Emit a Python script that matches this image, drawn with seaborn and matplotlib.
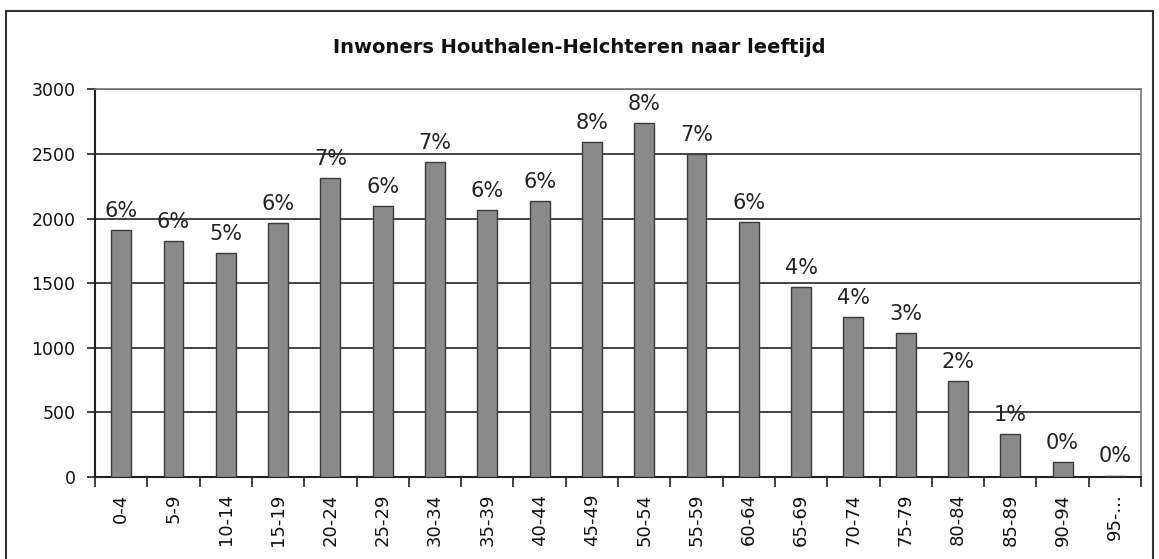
import matplotlib
matplotlib.use("Agg")
import matplotlib.pyplot as plt
import seaborn as sns
import pandas as pd
import numpy as np
from matplotlib.patches import Rectangle

categories = ["0-4", "5-9", "10-14", "15-19", "20-24", "25-29", "30-34", "35-39",
              "40-44", "45-49", "50-54", "55-59", "60-64", "65-69", "70-74", "75-79",
              "80-84", "85-89", "90-94", "95-..."]
inwoners = [1910, 1825, 1735, 1962, 2316, 2099, 2440, 2065, 2137, 2594,
            2741, 2499, 1975, 1467, 1239, 1110, 741, 331, 116, 10]
percent_labels = ["6%", "6%", "5%", "6%", "7%", "6%", "7%", "6%", "6%", "8%",
                  "8%", "7%", "6%", "4%", "4%", "3%", "2%", "1%", "0%", "0%"]
y_ticks = [0, 500, 1000, 1500, 2000, 2500, 3000]
title = "Inwoners Houthalen-Helchteren naar leeftijd"

df = pd.DataFrame({"leeftijd": categories, "inwoners": inwoners})

sns.set_theme(style="white")
plt.rcParams['font.family'] = ['DejaVu Sans']

fig = plt.figure(figsize=(11.59, 5.59), dpi=100)
ax = fig.add_axes([0.082, 0.147, 0.9025, 0.693])

sns.barplot(data=df, x="leeftijd", y="inwoners", color="#8a8a8a", width=0.38,
            edgecolor="#3a3a3a", linewidth=1.0, saturation=1, ax=ax, zorder=3)

ax.set_ylim(0, 3000)
ax.set_xlim(-0.5, len(categories) - 0.5)
ax.set_yticks(y_ticks)
ax.set_yticklabels([str(v) for v in y_ticks], fontsize=12.5, color="#111111")
ax.set_xticks(range(len(categories)))
ax.set_xticklabels(categories, rotation=90, fontsize=13, color="#111111")
ax.set_xlabel("")
ax.set_ylabel("")

ax.yaxis.grid(True, color="#222222", linewidth=1.2, zorder=0)
ax.set_axisbelow(True)

# Excel-style ticks between categories
ax.tick_params(axis="x", which="major", bottom=True, length=0, pad=12)
ax.set_xticks(np.arange(-0.5, len(categories), 1.0), minor=True)
ax.tick_params(axis="x", which="minor", bottom=True, length=7, width=1.2,
               color="#222222", direction="out")
ax.tick_params(axis="y", which="major", left=True, length=6, width=1.2,
               color="#222222", direction="out", pad=8)

for side in ["left", "bottom"]:
    ax.spines[side].set_color("#222222")
    ax.spines[side].set_linewidth(1.5)
for side in ["right", "top"]:
    ax.spines[side].set_color("#777777")
    ax.spines[side].set_linewidth(1.2)

for i, (v, lab) in enumerate(zip(inwoners, percent_labels)):
    ax.text(i, v + 70, lab, ha="center", va="bottom", fontsize=15, color="#222222")

fig.text(0.5, 0.915, title, ha="center", va="center", fontsize=14,
         fontweight="bold", color="#111111")

fig.patches.append(Rectangle((0.005, -0.01), 0.99, 0.99, transform=fig.transFigure,
                             fill=False, edgecolor="#333333", linewidth=1.5))

fig.savefig("out.png", dpi=100, facecolor="white")
